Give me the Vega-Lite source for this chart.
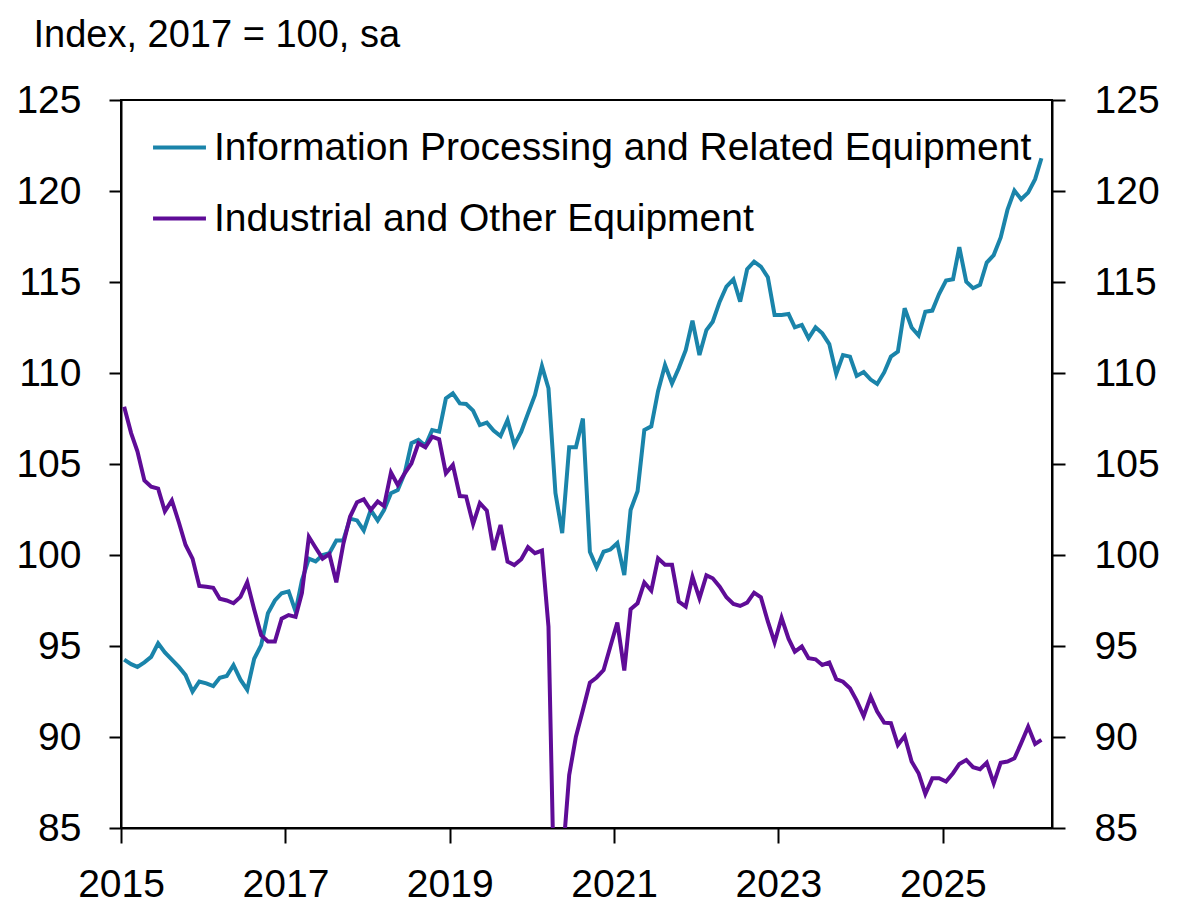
{
  "$schema": "https://vega.github.io/schema/vega-lite/v6.json",
  "autosize": {"type": "none"},
  "width": 931,
  "height": 728,
  "padding": {"left": 121, "top": 100, "right": 134, "bottom": 78},
  "background": "white",
  "config": {
    "font": "Liberation Sans, Arial, sans-serif",
    "view": {"stroke": "black", "strokeWidth": 2},
    "axis": {
      "grid": false,
      "domainColor": "black",
      "domainWidth": 2,
      "tickColor": "black",
      "tickWidth": 2,
      "labelColor": "black",
      "labelFont": "Liberation Sans, Arial, sans-serif",
      "labelFontSize": 39,
      "titleFont": "Liberation Sans, Arial, sans-serif",
      "titleColor": "black",
      "titleFontWeight": "normal"
    },
    "legend": {
      "labelFont": "Liberation Sans, Arial, sans-serif",
      "labelColor": "black"
    }
  },
  "data": {
    "values": [
      {"d": "2015-01-15", "info": 94.25, "ind": 108.15},
      {"d": "2015-02-15", "info": 94.0, "ind": 106.7},
      {"d": "2015-03-15", "info": 93.85, "ind": 105.7},
      {"d": "2015-04-15", "info": 94.1, "ind": 104.1},
      {"d": "2015-05-15", "info": 94.4, "ind": 103.75},
      {"d": "2015-06-15", "info": 95.15, "ind": 103.65},
      {"d": "2015-07-15", "info": 94.65, "ind": 102.4},
      {"d": "2015-08-15", "info": 94.25, "ind": 103.0},
      {"d": "2015-09-15", "info": 93.85, "ind": 101.8},
      {"d": "2015-10-15", "info": 93.4, "ind": 100.55},
      {"d": "2015-11-15", "info": 92.5, "ind": 99.8},
      {"d": "2015-12-15", "info": 93.05, "ind": 98.3},
      {"d": "2016-01-15", "info": 92.95, "ind": 98.25},
      {"d": "2016-02-15", "info": 92.8, "ind": 98.2},
      {"d": "2016-03-15", "info": 93.25, "ind": 97.6},
      {"d": "2016-04-15", "info": 93.35, "ind": 97.5},
      {"d": "2016-05-15", "info": 93.95, "ind": 97.35},
      {"d": "2016-06-15", "info": 93.15, "ind": 97.7},
      {"d": "2016-07-15", "info": 92.6, "ind": 98.5},
      {"d": "2016-08-15", "info": 94.3, "ind": 97.0},
      {"d": "2016-09-15", "info": 95.05, "ind": 95.6},
      {"d": "2016-10-15", "info": 96.8, "ind": 95.25},
      {"d": "2016-11-15", "info": 97.5, "ind": 95.25},
      {"d": "2016-12-15", "info": 97.9, "ind": 96.5},
      {"d": "2017-01-15", "info": 98.0, "ind": 96.7},
      {"d": "2017-02-15", "info": 96.9, "ind": 96.6},
      {"d": "2017-03-15", "info": 98.6, "ind": 97.9},
      {"d": "2017-04-15", "info": 99.8, "ind": 101.0},
      {"d": "2017-05-15", "info": 99.65, "ind": 100.4},
      {"d": "2017-06-15", "info": 100.0, "ind": 99.8},
      {"d": "2017-07-15", "info": 100.1, "ind": 100.05},
      {"d": "2017-08-15", "info": 100.8, "ind": 98.5},
      {"d": "2017-09-15", "info": 100.8, "ind": 100.6},
      {"d": "2017-10-15", "info": 102.0, "ind": 102.1},
      {"d": "2017-11-15", "info": 101.9, "ind": 102.9},
      {"d": "2017-12-15", "info": 101.35, "ind": 103.06},
      {"d": "2018-01-15", "info": 102.47, "ind": 102.47},
      {"d": "2018-02-15", "info": 101.9, "ind": 102.94},
      {"d": "2018-03-15", "info": 102.47, "ind": 102.69},
      {"d": "2018-04-15", "info": 103.4, "ind": 104.53},
      {"d": "2018-05-15", "info": 103.57, "ind": 103.85},
      {"d": "2018-06-15", "info": 104.5, "ind": 104.49},
      {"d": "2018-07-15", "info": 106.14, "ind": 105.04},
      {"d": "2018-08-15", "info": 106.32, "ind": 106.14},
      {"d": "2018-09-15", "info": 106.0, "ind": 105.92},
      {"d": "2018-10-15", "info": 106.87, "ind": 106.5},
      {"d": "2018-11-15", "info": 106.78, "ind": 106.36},
      {"d": "2018-12-15", "info": 108.6, "ind": 104.49},
      {"d": "2019-01-15", "info": 108.88, "ind": 104.95},
      {"d": "2019-02-15", "info": 108.33, "ind": 103.24},
      {"d": "2019-03-15", "info": 108.3, "ind": 103.21},
      {"d": "2019-04-15", "info": 107.93, "ind": 101.7},
      {"d": "2019-05-15", "info": 107.14, "ind": 102.85},
      {"d": "2019-06-15", "info": 107.27, "ind": 102.44},
      {"d": "2019-07-15", "info": 106.84, "ind": 100.27},
      {"d": "2019-08-15", "info": 106.54, "ind": 101.65},
      {"d": "2019-09-15", "info": 107.42, "ind": 99.64},
      {"d": "2019-10-15", "info": 106.04, "ind": 99.45},
      {"d": "2019-11-15", "info": 106.78, "ind": 99.77},
      {"d": "2019-12-15", "info": 107.78, "ind": 100.43},
      {"d": "2020-01-15", "info": 108.79, "ind": 100.1},
      {"d": "2020-02-15", "info": 110.38, "ind": 100.24},
      {"d": "2020-03-15", "info": 109.16, "ind": 96.07},
      {"d": "2020-04-15", "info": 103.4, "ind": 78.0},
      {"d": "2020-05-15", "info": 101.2, "ind": 83.0},
      {"d": "2020-06-15", "info": 105.92, "ind": 87.91},
      {"d": "2020-07-15", "info": 105.92, "ind": 90.02},
      {"d": "2020-08-15", "info": 107.5, "ind": 91.48},
      {"d": "2020-09-15", "info": 100.18, "ind": 92.98},
      {"d": "2020-10-15", "info": 99.32, "ind": 93.27},
      {"d": "2020-11-15", "info": 100.18, "ind": 93.68},
      {"d": "2020-12-15", "info": 100.3, "ind": 94.97},
      {"d": "2021-01-15", "info": 100.65, "ind": 96.29},
      {"d": "2021-02-15", "info": 98.9, "ind": 93.65},
      {"d": "2021-03-15", "info": 102.47, "ind": 97.02},
      {"d": "2021-04-15", "info": 103.5, "ind": 97.35},
      {"d": "2021-05-15", "info": 106.87, "ind": 98.49},
      {"d": "2021-06-15", "info": 107.07, "ind": 98.04},
      {"d": "2021-07-15", "info": 109.0, "ind": 99.82},
      {"d": "2021-08-15", "info": 110.44, "ind": 99.47},
      {"d": "2021-09-15", "info": 109.42, "ind": 99.47},
      {"d": "2021-10-15", "info": 110.26, "ind": 97.44},
      {"d": "2021-11-15", "info": 111.25, "ind": 97.16},
      {"d": "2021-12-15", "info": 112.88, "ind": 98.8},
      {"d": "2022-01-15", "info": 110.99, "ind": 97.62},
      {"d": "2022-02-15", "info": 112.36, "ind": 98.88},
      {"d": "2022-03-15", "info": 112.82, "ind": 98.72},
      {"d": "2022-04-15", "info": 113.92, "ind": 98.26},
      {"d": "2022-05-15", "info": 114.75, "ind": 97.68},
      {"d": "2022-06-15", "info": 115.15, "ind": 97.31},
      {"d": "2022-07-15", "info": 113.92, "ind": 97.2},
      {"d": "2022-08-15", "info": 115.7, "ind": 97.38},
      {"d": "2022-09-15", "info": 116.12, "ind": 97.93},
      {"d": "2022-10-15", "info": 115.85, "ind": 97.68},
      {"d": "2022-11-15", "info": 115.26, "ind": 96.35},
      {"d": "2022-12-15", "info": 113.19, "ind": 95.2},
      {"d": "2023-01-15", "info": 113.19, "ind": 96.55},
      {"d": "2023-02-15", "info": 113.24, "ind": 95.4},
      {"d": "2023-03-15", "info": 112.51, "ind": 94.69},
      {"d": "2023-04-15", "info": 112.64, "ind": 94.97},
      {"d": "2023-05-15", "info": 111.91, "ind": 94.33},
      {"d": "2023-06-15", "info": 112.51, "ind": 94.27},
      {"d": "2023-07-15", "info": 112.18, "ind": 93.96},
      {"d": "2023-08-15", "info": 111.59, "ind": 94.09},
      {"d": "2023-09-15", "info": 109.95, "ind": 93.18},
      {"d": "2023-10-15", "info": 110.99, "ind": 93.04},
      {"d": "2023-11-15", "info": 110.9, "ind": 92.68},
      {"d": "2023-12-15", "info": 109.84, "ind": 92.0},
      {"d": "2024-01-15", "info": 110.05, "ind": 91.15},
      {"d": "2024-02-15", "info": 109.64, "ind": 92.22},
      {"d": "2024-03-15", "info": 109.4, "ind": 91.4},
      {"d": "2024-04-15", "info": 110.03, "ind": 90.79},
      {"d": "2024-05-15", "info": 110.9, "ind": 90.76},
      {"d": "2024-06-15", "info": 111.18, "ind": 89.56},
      {"d": "2024-07-15", "info": 113.56, "ind": 90.05},
      {"d": "2024-08-15", "info": 112.5, "ind": 88.65},
      {"d": "2024-09-15", "info": 112.06, "ind": 88.01},
      {"d": "2024-10-15", "info": 113.37, "ind": 86.87},
      {"d": "2024-11-15", "info": 113.43, "ind": 87.73},
      {"d": "2024-12-15", "info": 114.34, "ind": 87.73},
      {"d": "2025-01-15", "info": 115.08, "ind": 87.55},
      {"d": "2025-02-15", "info": 115.15, "ind": 88.01},
      {"d": "2025-03-15", "info": 116.91, "ind": 88.52},
      {"d": "2025-04-15", "info": 115.02, "ind": 88.74},
      {"d": "2025-05-15", "info": 114.66, "ind": 88.34},
      {"d": "2025-06-15", "info": 114.84, "ind": 88.23},
      {"d": "2025-07-15", "info": 116.07, "ind": 88.59},
      {"d": "2025-08-15", "info": 116.48, "ind": 87.46},
      {"d": "2025-09-15", "info": 117.45, "ind": 88.59},
      {"d": "2025-10-15", "info": 118.96, "ind": 88.65},
      {"d": "2025-11-15", "info": 120.02, "ind": 88.83},
      {"d": "2025-12-15", "info": 119.55, "ind": 89.66},
      {"d": "2026-01-15", "info": 119.91, "ind": 90.57},
      {"d": "2026-02-15", "info": 120.65, "ind": 89.62},
      {"d": "2026-03-15", "info": 121.8, "ind": 89.84}
    ]
  },
  "transform": [
    {"fold": ["info", "ind"], "as": ["series", "value"]}
  ],
  "encoding": {
    "x": {
      "field": "d",
      "type": "temporal",
      "scale": {"domain": [{"year": 2015, "month": 1, "date": 1}, {"year": 2026, "month": 5, "date": 1}]},
      "axis": {
        "title": null,
        "values": [{"year": 2015, "month": 1, "date": 1}, {"year": 2017, "month": 1, "date": 1}, {"year": 2019, "month": 1, "date": 1}, {"year": 2021, "month": 1, "date": 1}, {"year": 2023, "month": 1, "date": 1}, {"year": 2025, "month": 1, "date": 1}],
        "format": "%Y",
        "tickSize": 15,
        "labelPadding": 22,
        "labelFlush": false,
        "labelOverlap": false
      }
    }
  },
  "layer": [
    {
      "mark": {"type": "line", "strokeWidth": 4, "clip": true},
      "encoding": {
        "y": {
          "field": "value",
          "type": "quantitative",
          "scale": {"domain": [85, 125], "nice": false, "zero": false},
          "axis": {
            "orient": "left",
            "values": [85, 90, 95, 100, 105, 110, 115, 120, 125],
            "tickSize": 12,
            "labelPadding": 28,
            "labelFlush": false,
            "labelOverlap": false,
            "title": "Index, 2017 = 100, sa",
            "titleAngle": 0,
            "titleAlign": "left",
            "titleBaseline": "alphabetic",
            "titleX": -88,
            "titleY": -54,
            "titleFontSize": 38
          }
        },
        "color": {
          "field": "series",
          "type": "nominal",
          "scale": {"domain": ["info", "ind"], "range": ["#1A84AA", "#5F0C97"]},
          "legend": {
            "title": null,
            "orient": "none",
            "legendX": 30,
            "legendY": 19,
            "padding": 0,
            "symbolType": "stroke",
            "symbolStrokeWidth": 4,
            "symbolSize": 2800,
            "labelFontSize": 39,
            "labelOffset": 6,
            "labelLimit": 2000,
            "rowPadding": 22,
            "labelExpr": "datum.label == 'info' ? 'Information Processing and Related Equipment' : 'Industrial and Other Equipment'"
          }
        }
      }
    },
    {
      "mark": {"type": "line", "opacity": 0, "clip": true},
      "encoding": {
        "detail": {"field": "series"},
        "y": {
          "field": "value",
          "type": "quantitative",
          "scale": {"domain": [85, 125], "nice": false, "zero": false},
          "axis": {
            "orient": "right",
            "values": [85, 90, 95, 100, 105, 110, 115, 120, 125],
            "tickSize": 13,
            "labelPadding": 29,
            "labelFlush": false,
            "labelOverlap": false,
            "title": null
          }
        }
      }
    }
  ],
  "resolve": {"scale": {"y": "independent"}}
}
